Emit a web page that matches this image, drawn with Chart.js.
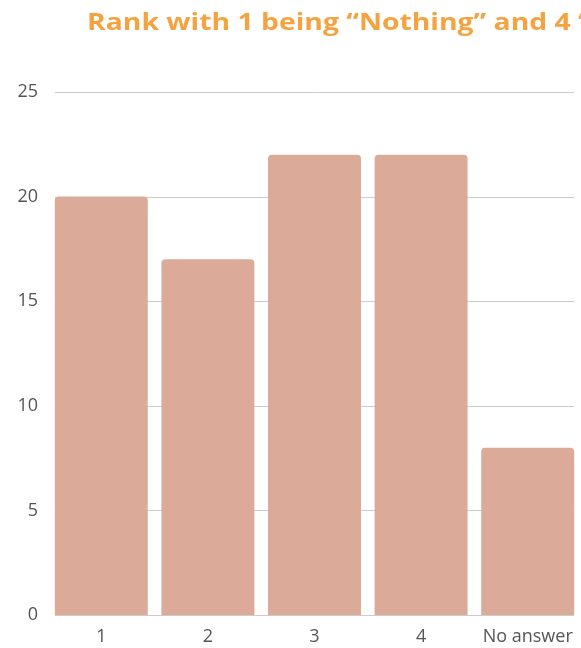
<!DOCTYPE html>
<html>
<head>
<meta charset="utf-8">
<script src="https://cdn.jsdelivr.net/npm/chart.js@4"></script>
<style>
  html, body { margin: 0; padding: 0; background: #fff; overflow: hidden; }
  #wrap { position: relative; width: 581px; height: 648px; overflow: hidden; }
  #title {
    position: absolute; left: 87px; top: 4px; white-space: nowrap;
    font-family: "Open Sans", sans-serif; font-weight: 700; font-size: 24px;
    color: #F4A340;
    transform: scaleX(1.18); transform-origin: left top;
  }
</style>
</head>
<body>
<div id="wrap">
  <canvas id="rankChart" width="581" height="648"></canvas>
  <div id="title">Rank with 1 being “Nothing” and 4 “Everything”</div>
</div>
<script>
const categories = ['1', '2', '3', '4', 'No answer'];
const counts = [20, 17, 22, 22, 8];
const yTicks = [0, 5, 10, 15, 20, 25];

// horizontal guides only span the bars, not the full chart area
const barGridPlugin = {
    id: 'barGrid',
    beforeDatasetsDraw(chart) {
        const bars = chart.getDatasetMeta(0).data;
        if (!bars.length) return;
        const left = bars[0].x - bars[0].width / 2;
        const last = bars[bars.length - 1];
        const right = last.x + last.width / 2;
        const y = chart.scales.y;
        const ctx = chart.ctx;
        ctx.save();
        ctx.strokeStyle = '#cccccc';
        ctx.lineWidth = 1;
        yTicks.forEach(t => {
            const py = Math.round(y.getPixelForValue(t)) + 0.5;
            ctx.beginPath();
            ctx.moveTo(left, py);
            ctx.lineTo(right, py);
            ctx.stroke();
        });
        ctx.restore();
    }
};

const ctx = document.getElementById('rankChart').getContext('2d');
new Chart(ctx, {
    type: 'bar',
    data: {
        labels: categories,
        datasets: [{
            data: counts,
            backgroundColor: '#DBAA98',
            borderRadius: { topLeft: 4, topRight: 4 },
            borderSkipped: 'bottom',
            categoryPercentage: 1,
            barPercentage: 0.872
        }]
    },
    options: {
        responsive: false,
        animation: false,
        layout: { padding: { top: 92, right: 0, bottom: 0, left: 0 } },
        plugins: {
            legend: { display: false },
            tooltip: { enabled: false }
        },
        scales: {
            x: {
                grid: { display: false, drawTicks: false },
                border: { display: false },
                ticks: {
                    color: '#555',
                    padding: 11,
                    font: { family: 'Open Sans', size: 18 }
                },
                afterFit: scale => {
                    // let the last label run to the edge instead of shrinking the plot
                    scale.height = 33;
                    scale.paddingLeft = 0;
                    scale.paddingRight = 0;
                }
            },
            y: {
                min: 0,
                max: 25,
                grid: { display: false, drawTicks: false },
                border: { display: false },
                afterBuildTicks: scale => { scale.ticks = yTicks.map(v => ({ value: v })); },
                ticks: {
                    color: '#555',
                    padding: 10,
                    font: { family: 'Open Sans', size: 18 }
                },
                afterFit: scale => { scale.width = 48; }
            }
        }
    },
    plugins: [barGridPlugin]
});
</script>
</body>
</html>
